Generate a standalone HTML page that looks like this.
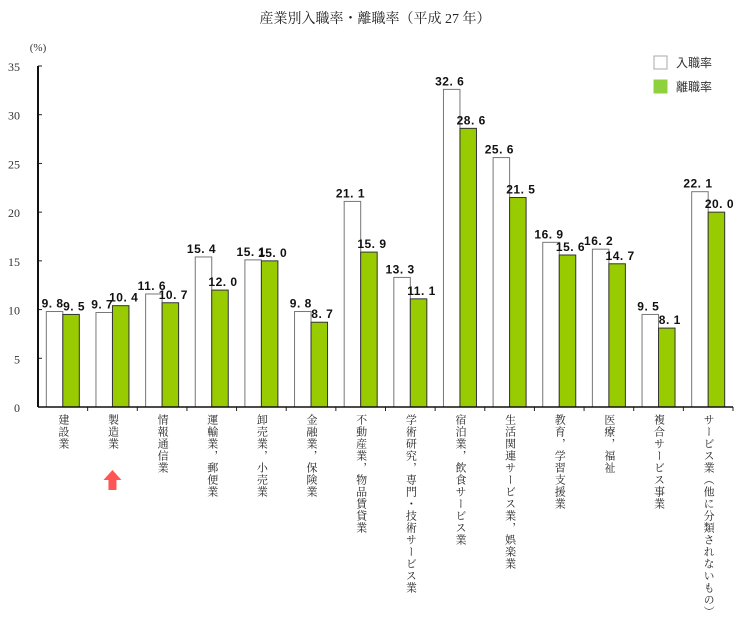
<!DOCTYPE html>
<html><head><meta charset="utf-8">
<style>
body{margin:0;background:#fff;}
#wrap{position:relative;width:750px;height:618px;overflow:hidden;font-family:"Liberation Sans","Noto Sans CJK JP",sans-serif;}
.cat{position:absolute;writing-mode:vertical-rl;font-size:11px;letter-spacing:1px;color:#222;font-family:"Liberation Serif","Noto Serif CJK SC",serif;line-height:12px;}
</style></head>
<body>
<div id="wrap">
<svg id="svg" width="750" height="618" style="position:absolute;left:0;top:0"></svg>
</div>
<script>
const categories=["建設業","製造業","情報通信業","運輸業，郵便業","卸売業，小売業","金融業，保険業","不動産業，物品賃貸業","学術研究，専門・技術サービス業","宿泊業，飲食サービス業","生活関連サービス業，娯楽業","教育，学習支援業","医療，福祉","複合サービス事業","サービス業（他に分類されないもの）"];
const entryRate=[9.8,9.7,11.6,15.4,15.1,9.8,21.1,13.3,32.6,25.6,16.9,16.2,9.5,22.1];
const exitRate=[9.5,10.4,10.7,12.0,15.0,8.7,15.9,11.1,28.6,21.5,15.6,14.7,8.1,20.0];
const yTicks=[0,5,10,15,20,25,30,35];

const NS="http://www.w3.org/2000/svg";
const svg=document.getElementById('svg');
const wrap=document.getElementById('wrap');
const x0=38,x1=733,yTop=66,yBot=407,yMax=35;
const bw=(x1-x0)/categories.length;
const y=v=>yBot-(v/yMax)*(yBot-yTop);
function el(tag,attrs){const e=document.createElementNS(NS,tag);for(const k in attrs)e.setAttribute(k,attrs[k]);svg.appendChild(e);return e;}

const title=el('text',{x:375,y:23,'text-anchor':'middle','font-size':14,fill:'#222','font-family':'"Liberation Serif","Noto Serif CJK SC",serif'});
title.textContent="産業別入職率・離職率（平成 27 年）";


const unit=el('text',{x:38,y:51,'text-anchor':'middle','font-size':11,fill:'#333','font-family':'"Liberation Serif",serif'});
unit.textContent="(%)";



yTicks.forEach(t=>{
  const tx=el('text',{x:20,y:y(t)+5,'text-anchor':'end','font-size':12,fill:'#333','font-family':'"Liberation Serif",serif'});
  tx.textContent=t;
  
  
  const tk=el('line',{x1:x0,x2:x0+4,y1:y(t),y2:y(t),stroke:'#222','stroke-width':1});
  
  
});

categories.forEach((c,i)=>{
  const cx=x0+bw*(i+0.5);
  const w=16.5;
  const b1=el('rect',{x:cx-w,y:y(entryRate[i]),width:w,height:yBot-y(entryRate[i]),fill:'#fff',stroke:'#777','stroke-width':1});
  
  
  const b2=el('rect',{x:cx,y:y(exitRate[i]),width:w,height:yBot-y(exitRate[i]),fill:'#99cc00',stroke:'#333','stroke-width':1});
  
  
  const l1=el('text',{x:cx-w/2-2,y:y(entryRate[i])-4,'text-anchor':'middle','font-size':12,'font-weight':'bold',fill:'#111','letter-spacing':'0.5','font-family':'"Liberation Sans Narrow","Liberation Sans",sans-serif'});
  l1.textContent=entryRate[i].toFixed(1).replace('.','. ');
  
  
  const l2=el('text',{x:cx+w/2+3,y:y(exitRate[i])-4,'text-anchor':'middle','font-size':12,'font-weight':'bold',fill:'#111','letter-spacing':'0.5','font-family':'"Liberation Sans Narrow","Liberation Sans",sans-serif'});
  l2.textContent=exitRate[i].toFixed(1).replace('.','. ');
  
  
  const tk=el('line',{x1:x0+bw*(i+1),x2:x0+bw*(i+1),y1:yBot,y2:yBot+4,stroke:'#222'});
  
  
  const d=document.createElement('div');
  d.className='cat';
  d.style.left=(cx-6)+'px';
  d.style.top='414px';
  d.textContent=c;
  
  
  wrap.appendChild(d);
});

const ya=el('line',{x1:x0,x2:x0,y1:yTop,y2:yBot,stroke:'#111','stroke-width':2});


const xa=el('line',{x1:x0,x2:x1,y1:yBot,y2:yBot,stroke:'#111','stroke-width':1.5});



// legend
const lg1=el('rect',{x:654,y:56,width:13,height:13,fill:'#fff',stroke:'#aaa'});


const lt1=el('text',{x:676,y:67,'font-size':12,fill:'#333','font-family':'"Noto Sans CJK JP",sans-serif'});
lt1.textContent="入職率";


const lg2=el('rect',{x:654,y:80,width:13,height:13,fill:'#8fd13c',stroke:'#8fd13c'});


const lt2=el('text',{x:676,y:91,'font-size':12,fill:'#333','font-family':'"Noto Sans CJK JP",sans-serif'});
lt2.textContent="離職率";



// red arrow under 製造業
const ax=x0+bw*1.5;
const ar=el('polygon',{points:`${ax},470 ${ax+9},480 ${ax+4},480 ${ax+4},490 ${ax-4},490 ${ax-4},480 ${ax-9},480`,fill:'#ff5555'});


</script>
</body></html>
